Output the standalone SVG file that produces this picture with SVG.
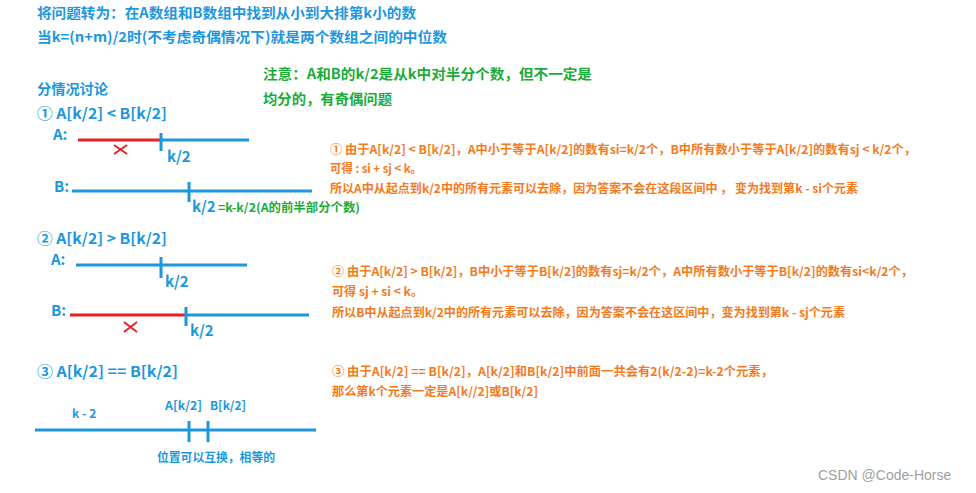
<svg xmlns="http://www.w3.org/2000/svg" width="976" height="493" viewBox="0 0 976 493">
<style>
text{font-family:"Noto Sans CJK SC","Liberation Sans",sans-serif;font-weight:bold}
.b{fill:#1b97de}
.t{font-size:14px}
.h{font-size:15px}
.g{fill:#1aab38}
.o{fill:#f47a20;font-size:12px}
.ln{stroke:#1b97de;stroke-width:3;fill:none}
.rd{stroke:#e5202a;stroke-width:3;fill:none}
.x{stroke:#e5202a;stroke-width:2;fill:none}
.wm{font-family:"Liberation Sans",sans-serif;font-weight:normal;font-size:14px;fill:#a0a0a0}
</style>
<rect width="976" height="493" fill="#ffffff"/>
<g id="title">
<text class="b t" x="37" y="18" textLength="379" lengthAdjust="spacingAndGlyphs">将问题转为：在A数组和B数组中找到从小到大排第k小的数</text>
<text class="b t" x="37" y="42" textLength="410" lengthAdjust="spacingAndGlyphs">当k=(n+m)/2时(不考虑奇偶情况下)就是两个数组之间的中位数</text>
</g>
<g id="note">
<text class="g t" x="263" y="79" textLength="329" lengthAdjust="spacingAndGlyphs">注意：A和B的k/2是从k中对半分个数，但不一定是</text>
<text class="g t" x="263" y="104" textLength="129" lengthAdjust="spacingAndGlyphs">均分的，有奇偶问题</text>
</g>
<g id="case1">
<text class="b t" x="37" y="94" textLength="71" lengthAdjust="spacingAndGlyphs">分情况讨论</text>
<text class="b h" x="37" y="119" textLength="130" lengthAdjust="spacingAndGlyphs">① A[k/2] &lt; B[k/2]</text>
<text class="b h" x="53" y="140">A:</text>
<line class="rd" x1="78" y1="140" x2="161" y2="140"/>
<line class="ln" x1="161" y1="140" x2="249" y2="140"/>
<line class="ln" x1="161" y1="133" x2="161" y2="151"/>
<path class="x" d="M114 145L127 154M127 145L114 154"/>
<text class="b h" x="167" y="162">k/2</text>
<text class="b h" x="54" y="192">B:</text>
<line class="ln" x1="72" y1="191" x2="312" y2="191"/>
<line class="ln" x1="189" y1="182" x2="189" y2="202"/>
<text class="b h" x="192" y="212">k/2</text>
<text class="g" x="218" y="212" font-size="12" textLength="142" lengthAdjust="spacingAndGlyphs">=k-k/2(A的前半部分个数)</text>
</g>
<g id="explain1">
<text class="o" x="330" y="154" textLength="586" lengthAdjust="spacingAndGlyphs">① 由于A[k/2] &lt; B[k/2]，A中小于等于A[k/2]的数有si=k/2个，B中所有数小于等于A[k/2]的数有sj &lt; k/2个，</text>
<text class="o" x="330" y="173" textLength="92" lengthAdjust="spacingAndGlyphs">可得 : si + sj &lt; k。</text>
<text class="o" x="330" y="193" textLength="528" lengthAdjust="spacingAndGlyphs">所以A中从起点到k/2中的所有元素可以去除，因为答案不会在这段区间中 ， 变为找到第k - si个元素</text>
</g>
<g id="case2">
<text class="b h" x="37" y="244" textLength="130" lengthAdjust="spacingAndGlyphs">② A[k/2] &gt; B[k/2]</text>
<text class="b h" x="51" y="265">A:</text>
<line class="ln" x1="76" y1="265" x2="247" y2="265"/>
<line class="ln" x1="161" y1="257" x2="161" y2="278"/>
<text class="b h" x="165" y="287">k/2</text>
<text class="b h" x="51" y="316">B:</text>
<line class="rd" x1="70" y1="315" x2="186" y2="315"/>
<line class="ln" x1="186" y1="315" x2="309" y2="315"/>
<line class="ln" x1="186" y1="307" x2="186" y2="326"/>
<path class="x" d="M124 322L137 332M137 322L124 332"/>
<text class="b h" x="190" y="336">k/2</text>
</g>
<g id="explain2">
<text class="o" x="332" y="276" textLength="581" lengthAdjust="spacingAndGlyphs">② 由于A[k/2] &gt; B[k/2]，B中小于等于B[k/2]的数有sj=k/2个，A中所有数小于等于B[k/2]的数有si&lt;k/2个，</text>
<text class="o" x="332" y="296" textLength="91" lengthAdjust="spacingAndGlyphs">可得 sj + si &lt; k。</text>
<text class="o" x="332" y="317" textLength="513" lengthAdjust="spacingAndGlyphs">所以B中从起点到k/2中的所有元素可以去除，因为答案不会在这区间中，变为找到第k - sj个元素</text>
</g>
<g id="case3">
<text class="b h" x="37" y="377" textLength="141" lengthAdjust="spacingAndGlyphs">③ A[k/2] == B[k/2]</text>
<text class="b" x="72" y="418" font-size="12">k - 2</text>
<text class="b" x="165" y="410" font-size="12" textLength="37" lengthAdjust="spacingAndGlyphs">A[k/2]</text>
<text class="b" x="210" y="410" font-size="12" textLength="36" lengthAdjust="spacingAndGlyphs">B[k/2]</text>
<line class="ln" x1="35" y1="430" x2="316" y2="430"/>
<line class="ln" x1="189" y1="421" x2="189" y2="442"/>
<line class="ln" x1="208" y1="421" x2="208" y2="442"/>
<text class="b" x="157" y="462" font-size="12" textLength="118" lengthAdjust="spacingAndGlyphs">位置可以互换，相等的</text>
</g>
<g id="explain3">
<text class="o" x="332" y="376" textLength="441" lengthAdjust="spacingAndGlyphs">③ 由于A[k/2] == B[k/2]，A[k/2]和B[k/2]中前面一共会有2(k/2-2)=k-2个元素，</text>
<text class="o" x="332" y="396" textLength="206" lengthAdjust="spacingAndGlyphs">那么第k个元素一定是A[k//2]或B[k/2]</text>
</g>
<text class="wm" x="818" y="480">CSDN @Code-Horse</text>
</svg>
